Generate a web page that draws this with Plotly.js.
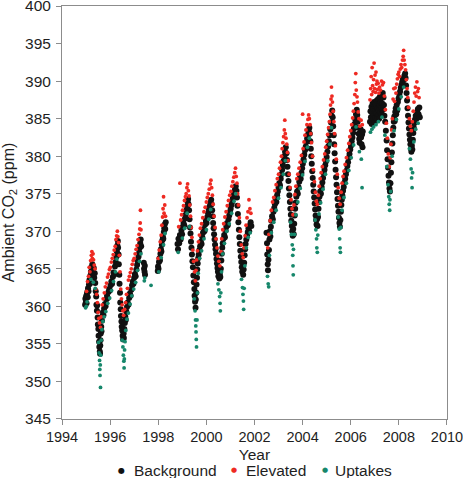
<!DOCTYPE html>
<html>
<head>
<meta charset="utf-8">
<script src="https://cdn.plot.ly/plotly-3.0.1.min.js"></script>
<style>
  html, body { margin: 0; padding: 0; background: #ffffff; }
  #chart { width: 463px; height: 478px; }
</style>
</head>
<body>
<div id="chart"></div>
<script>
// ---- Data: [decimal year, CO2 ppm] ----
const seriesNames = ["Background", "Elevated", "Uptakes"];

const backgroundPoints = [
[1994.96,360.2],[1994.97,361.0],[1994.99,360.5],[1995.00,361.3],[1995.02,360.4],[1995.03,361.6],[1995.05,361.9],[1995.07,361.2],[1995.08,362.4],[1995.10,362.0],
[1995.12,362.9],[1995.14,363.5],[1995.16,363.0],[1995.18,364.1],[1995.20,364.6],[1995.22,365.2],[1995.24,364.7],[1995.26,365.6],[1995.28,365.0],[1995.30,364.3],
[1995.32,365.1],[1995.34,363.8],[1995.36,364.4],[1995.38,363.1],[1995.40,362.0],[1995.42,361.3],[1995.43,360.2],[1995.45,359.4],[1995.46,360.1],[1995.48,358.5],
[1995.49,357.6],[1995.51,357.0],[1995.52,356.1],[1995.54,355.3],[1995.55,354.6],[1995.57,354.0],[1995.58,353.7],[1995.59,354.8],[1995.60,355.5],[1995.61,356.4],
[1995.63,357.3],[1995.64,356.7],[1995.66,358.1],[1995.68,358.7],[1995.70,359.2],[1995.72,358.8],[1995.75,359.7],[1995.78,360.3],[1995.81,360.0],[1995.84,360.9],
[1995.87,361.4],[1995.90,361.1],[1995.93,361.9],[1995.96,362.3],[1995.99,362.1],[1996.02,362.8],[1996.05,363.3],[1996.08,363.0],[1996.11,363.9],[1996.14,364.5],
[1996.17,364.2],[1996.20,365.3],[1996.23,365.9],[1996.26,366.6],[1996.28,367.3],[1996.30,368.1],[1996.32,368.7],[1996.33,367.8],[1996.35,366.9],[1996.36,365.6],
[1996.38,364.2],[1996.39,363.0],[1996.41,361.8],[1996.42,360.5],[1996.44,359.6],[1996.45,358.7],[1996.47,358.0],[1996.48,357.3],[1996.50,356.8],[1996.52,356.1],
[1996.54,355.6],[1996.56,356.4],[1996.57,355.8],[1996.59,357.0],[1996.61,357.8],[1996.63,358.6],[1996.65,358.2],[1996.67,359.3],[1996.70,359.9],[1996.73,360.5],
[1996.76,360.2],[1996.79,361.1],[1996.82,361.7],[1996.85,361.4],[1996.88,362.2],[1996.91,362.8],[1996.94,363.3],[1996.97,363.0],[1997.00,363.8],[1997.03,364.3],
[1997.06,364.0],[1997.09,364.9],[1997.12,365.5],[1997.15,366.0],[1997.18,366.6],[1997.21,367.2],[1997.23,367.8],[1997.25,368.4],[1997.27,368.9],[1997.29,368.0],
[1997.40,365.8],[1997.41,365.0],[1997.43,364.6],[1997.44,365.4],[1997.45,364.2],
[1997.98,364.7],[1997.99,365.3],[1998.01,365.0],[1998.03,365.9],[1998.05,366.4],[1998.07,366.1],[1998.09,367.0],[1998.11,367.6],[1998.13,367.3],[1998.15,368.2],
[1998.17,368.8],[1998.19,369.3],[1998.21,369.0],[1998.23,369.9],[1998.25,370.4],[1998.27,370.9],[1998.29,370.3],[1998.31,371.2],
[1998.80,368.3],[1998.82,367.6],[1998.84,369.0],[1998.87,368.4],[1998.90,369.5],[1998.93,368.9],[1998.96,370.1],[1998.99,369.6],[1999.02,370.6],[1999.05,371.1],
[1999.08,370.8],[1999.11,371.7],[1999.14,372.2],[1999.17,372.8],[1999.20,373.3],[1999.22,373.9],[1999.24,374.3],[1999.26,373.6],[1999.28,372.8],[1999.30,371.6],
[1999.32,370.5],[1999.34,369.7],[1999.36,368.6],[1999.38,367.8],[1999.40,366.9],[1999.42,366.0],[1999.44,365.2],[1999.46,364.1],[1999.48,363.2],[1999.50,362.3],
[1999.51,361.4],[1999.53,360.6],[1999.55,359.8],[1999.56,360.9],[1999.58,361.8],[1999.59,362.9],[1999.61,363.8],[1999.62,364.9],[1999.64,365.7],[1999.66,366.4],
[1999.68,366.9],[1999.71,367.5],[1999.74,368.0],[1999.77,368.6],[1999.80,368.3],[1999.83,369.2],[1999.86,369.8],[1999.89,370.3],[1999.92,370.0],[1999.95,370.9],
[1999.98,371.4],[2000.01,371.1],[2000.04,371.9],[2000.07,372.4],[2000.10,372.9],[2000.13,373.3],[2000.16,373.8],[2000.20,374.2],[2000.22,373.6],[2000.24,372.8],
[2000.26,372.0],[2000.28,371.1],[2000.30,370.4],[2000.32,369.6],[2000.34,368.9],[2000.36,368.2],[2000.38,367.6],[2000.40,367.0],[2000.42,366.3],[2000.44,365.7],
[2000.46,365.1],[2000.48,364.6],[2000.50,364.0],[2000.52,364.7],[2000.54,363.7],[2000.56,364.3],[2000.58,363.9],[2000.60,365.0],[2000.62,366.1],[2000.64,367.0],
[2000.66,367.8],[2000.68,368.4],[2000.71,369.0],[2000.74,369.5],[2000.77,369.2],[2000.80,370.1],[2000.83,370.6],[2000.86,371.1],[2000.89,370.8],[2000.92,371.6],
[2000.95,372.1],[2000.98,372.6],[2001.01,373.0],[2001.04,373.5],[2001.07,373.9],[2001.10,374.4],[2001.13,374.8],[2001.16,375.2],[2001.19,375.6],[2001.22,376.0],
[2001.25,375.4],[2001.27,374.5],[2001.29,373.4],[2001.31,372.3],[2001.33,371.2],[2001.35,370.2],[2001.37,369.2],[2001.39,368.3],[2001.41,367.4],[2001.43,366.6],
[2001.45,365.9],[2001.47,365.2],[2001.49,364.6],[2001.51,365.3],[2001.53,364.2],[2001.55,364.9],[2001.57,365.8],[2001.59,366.8],[2001.61,367.6],[2001.63,368.3],
[2001.66,368.9],[2001.69,369.4],[2001.72,369.9],[2001.75,370.4],[2001.78,370.0],[2001.81,370.8],[2001.84,371.2],[2001.87,370.7],
[2002.50,369.8],[2002.52,368.4],[2002.53,366.9],[2002.55,365.6],[2002.56,364.8],[2002.58,366.2],[2002.60,367.5],[2002.62,368.9],[2002.64,370.0],[2002.66,369.3],
[2002.68,370.6],[2002.70,371.4],[2002.73,372.0],[2002.76,371.6],[2002.79,372.6],[2002.82,373.1],[2002.85,373.6],[2002.88,374.2],[2002.91,373.9],[2002.94,374.8],
[2002.97,375.3],[2003.00,375.8],[2003.03,376.4],[2003.06,376.1],[2003.09,377.0],[2003.12,377.6],[2003.15,378.2],[2003.18,378.8],[2003.21,379.4],[2003.24,380.0],
[2003.27,380.6],[2003.30,381.2],[2003.33,380.4],[2003.35,379.5],[2003.37,378.6],[2003.39,377.6],[2003.41,376.7],[2003.43,375.7],[2003.45,374.8],[2003.47,373.9],
[2003.49,373.0],[2003.51,372.2],[2003.53,371.4],[2003.55,370.7],[2003.57,370.0],[2003.59,369.4],[2003.61,370.3],[2003.63,369.6],[2003.65,371.0],[2003.67,372.1],
[2003.69,373.0],[2003.71,373.8],[2003.74,374.6],[2003.77,375.3],[2003.80,375.0],[2003.83,375.9],[2003.86,376.6],[2003.89,377.2],[2003.92,377.0],[2003.95,377.8],
[2003.98,378.4],[2004.01,379.0],[2004.04,379.6],[2004.07,380.2],[2004.10,380.8],[2004.13,381.3],[2004.16,381.9],[2004.19,382.4],[2004.22,382.9],[2004.25,383.4],
[2004.28,383.8],[2004.30,383.0],[2004.32,382.0],[2004.34,381.0],[2004.36,380.0],[2004.38,379.0],[2004.40,378.0],[2004.42,377.1],[2004.44,376.2],[2004.46,375.3],
[2004.48,374.5],[2004.50,373.7],[2004.52,372.9],[2004.54,372.1],[2004.56,371.5],[2004.58,370.9],[2004.60,371.6],[2004.62,370.7],[2004.64,371.9],[2004.66,373.0],
[2004.68,373.9],[2004.70,374.6],[2004.73,375.3],[2004.76,375.0],[2004.79,375.9],[2004.82,376.5],[2004.85,377.1],[2004.88,377.7],[2004.91,378.2],[2004.94,378.8],
[2004.97,379.3],[2005.00,379.9],[2005.03,380.6],[2005.06,381.3],[2005.09,382.0],[2005.12,382.8],[2005.15,383.6],[2005.18,384.5],[2005.21,385.4],[2005.23,386.1],
[2005.25,385.2],[2005.27,384.0],[2005.29,382.8],[2005.31,381.6],[2005.33,380.4],[2005.35,379.3],[2005.37,378.2],[2005.39,377.2],[2005.41,376.2],[2005.43,375.2],
[2005.45,374.3],[2005.47,373.4],[2005.49,372.6],[2005.51,371.8],[2005.53,371.1],[2005.55,370.6],[2005.57,371.5],[2005.59,372.6],[2005.61,373.5],[2005.63,374.2],
[2005.65,374.8],[2005.68,375.4],[2005.71,375.9],[2005.74,376.5],[2005.77,377.0],[2005.80,377.6],[2005.83,378.1],[2005.86,378.7],[2005.89,379.2],[2005.92,379.8],
[2005.95,380.3],[2005.98,380.9],[2006.01,381.4],[2006.04,382.0],[2006.07,382.5],[2006.10,383.1],[2006.13,383.7],[2006.16,384.3],[2006.19,384.9],[2006.22,385.6],
[2006.25,386.2],[2006.27,385.5],[2006.29,384.6],[2006.31,383.8],[2006.33,383.0],[2006.35,382.3],[2006.37,381.8],[2006.39,382.6],[2006.41,383.6],[2006.43,382.5],
[2006.45,381.6],[2006.47,382.9],[2006.49,381.2],[2006.50,383.3],
[2006.80,384.6],[2006.82,386.0],[2006.84,385.2],[2006.86,386.6],[2006.87,384.3],[2006.89,385.8],[2006.91,387.0],[2006.92,384.9],[2006.94,386.3],[2006.96,385.5],
[2006.97,387.2],[2006.99,384.5],[2007.01,386.0],[2007.03,385.2],[2007.04,386.9],[2007.06,385.7],[2007.08,387.4],[2007.09,384.8],[2007.11,386.4],[2007.13,385.5],
[2007.14,387.6],[2007.16,386.1],[2007.18,385.0],[2007.19,386.9],[2007.21,387.9],[2007.23,385.8],[2007.24,387.2],[2007.26,386.4],[2007.28,388.2],[2007.29,385.6],
[2007.31,387.0],[2007.33,388.4],[2007.34,386.2],[2007.36,387.8],[2007.38,386.8],[2007.40,385.4],[2007.43,384.6],[2007.46,383.4],[2007.49,382.1],[2007.51,380.8],
[2007.53,379.6],[2007.55,378.5],[2007.57,377.4],[2007.59,376.5],[2007.61,375.7],[2007.63,375.3],[2007.65,376.4],[2007.67,377.8],[2007.69,379.2],[2007.71,380.5],
[2007.73,381.7],[2007.75,382.8],[2007.77,383.8],[2007.79,384.6],[2007.81,385.3],[2007.83,384.7],[2007.85,385.9],[2007.87,386.4],[2007.89,385.6],[2007.91,386.8],
[2007.93,386.1],[2007.96,387.2],[2007.99,387.7],[2008.02,388.2],[2008.05,388.6],[2008.08,389.1],[2008.11,389.5],[2008.14,389.9],[2008.17,390.3],[2008.20,390.1],
[2008.23,390.7],[2008.26,391.0],[2008.28,390.4],[2008.30,389.4],[2008.32,388.4],[2008.34,387.4],[2008.36,386.4],[2008.38,385.4],[2008.40,384.5],[2008.42,383.7],
[2008.44,382.9],[2008.46,382.2],[2008.48,381.6],[2008.50,381.0],[2008.52,380.6],[2008.54,381.4],[2008.56,380.9],[2008.58,382.2],[2008.60,383.1],[2008.62,383.8],
[2008.64,384.4],[2008.67,384.9],[2008.70,385.4],[2008.73,385.0],[2008.76,385.9],[2008.79,386.3],[2008.82,385.6],[2008.85,386.5],[2008.87,385.2]
];

const elevatedPoints = [
[1995.02,362.0],[1995.06,363.3],[1995.10,364.0],[1995.13,365.2],[1995.16,364.6],[1995.19,366.1],[1995.22,366.8],[1995.24,367.3],[1995.26,366.4],[1995.29,367.0],
[1995.31,366.2],[1995.34,365.5],[1995.37,365.0],[1995.41,362.3],[1995.44,361.6],[1995.47,360.5],[1995.50,359.2],[1995.53,358.4],[1995.56,357.8],[1995.60,357.2],
[1995.63,358.6],[1995.67,360.2],[1995.71,361.0],[1995.76,361.8],[1995.80,362.6],[1995.85,363.1],[1995.89,363.9],[1995.93,364.3],[1995.97,364.9],[1996.01,365.2],
[1996.05,365.9],[1996.09,366.4],[1996.13,366.9],[1996.17,367.5],[1996.21,368.0],[1996.24,368.9],[1996.27,369.4],[1996.30,370.0],[1996.32,369.3],[1996.35,368.5],
[1996.38,366.8],[1996.41,364.6],[1996.44,362.3],[1996.47,361.0],[1996.50,360.2],[1996.53,359.4],[1996.56,358.8],[1996.60,359.6],[1996.64,360.5],[1996.68,361.6],
[1996.72,362.4],[1996.76,363.5],[1996.80,364.0],[1996.84,364.5],[1996.88,365.0],[1996.92,365.6],[1996.96,366.1],[1997.00,366.4],[1997.04,367.0],[1997.08,367.6],
[1997.12,368.1],[1997.16,368.9],[1997.20,369.6],[1997.23,370.3],[1997.25,371.1],[1997.26,372.8],[1997.28,370.2],
[1998.00,366.4],[1998.04,367.5],[1998.08,368.6],[1998.12,369.5],[1998.15,370.8],[1998.18,371.9],[1998.20,373.0],[1998.22,374.6],[1998.24,372.4],[1998.27,373.5],[1998.30,372.0],
[1998.85,370.6],[1998.90,376.4],[1998.93,371.5],[1998.97,372.2],[1999.01,372.8],[1999.05,373.4],[1999.09,374.1],[1999.13,374.6],[1999.16,375.0],[1999.19,375.8],
[1999.22,376.3],[1999.25,375.4],[1999.28,374.7],[1999.31,373.5],[1999.34,372.0],[1999.37,370.5],[1999.40,369.2],[1999.44,367.5],[1999.47,366.0],[1999.51,364.6],
[1999.54,363.4],[1999.57,364.8],[1999.60,366.2],[1999.63,367.4],[1999.67,368.6],[1999.71,369.5],[1999.75,370.4],[1999.80,371.0],[1999.85,371.8],[1999.90,372.6],
[1999.95,373.2],[2000.00,373.9],[2000.04,374.5],[2000.08,375.0],[2000.12,375.6],[2000.16,376.3],[2000.19,376.8],[2000.22,375.8],[2000.25,374.8],[2000.28,373.6],
[2000.32,372.0],[2000.36,370.5],[2000.40,369.0],[2000.44,367.8],[2000.48,366.7],[2000.52,366.0],[2000.56,365.4],[2000.60,367.3],[2000.64,369.0],[2000.68,370.2],
[2000.72,371.0],[2000.77,371.9],[2000.82,372.6],[2000.87,373.4],[2000.92,374.1],[2000.97,374.8],[2001.02,375.3],[2001.06,376.0],[2001.10,376.6],[2001.14,377.2],
[2001.18,377.8],[2001.21,378.4],[2001.24,377.3],[2001.27,376.4],[2001.30,375.0],[2001.33,373.5],[2001.37,371.8],[2001.41,370.0],[2001.45,368.2],[2001.49,367.0],
[2001.53,366.5],[2001.57,367.8],[2001.61,369.4],[2001.65,370.8],[2001.69,371.8],[2001.73,372.6],[2001.77,374.2],[2001.81,373.0],[2001.85,372.4],
[2002.55,367.8],[2002.60,369.6],[2002.65,371.4],[2002.70,372.8],[2002.75,373.9],[2002.80,374.5],[2002.85,375.4],[2002.90,376.2],[2002.95,377.0],[2003.00,377.6],
[2003.04,378.4],[2003.08,379.2],[2003.12,380.0],[2003.15,381.0],[2003.18,381.8],[2003.21,382.6],[2003.24,383.5],[2003.26,384.8],[2003.28,383.0],[2003.31,382.4],
[2003.34,381.6],[2003.37,380.5],[2003.40,379.4],[2003.44,377.6],[2003.48,375.8],[2003.52,374.2],[2003.56,373.0],[2003.60,372.2],[2003.64,373.5],[2003.68,374.9],
[2003.72,376.0],[2003.76,377.0],[2003.80,377.6],[2003.85,378.4],[2003.90,379.2],[2003.95,380.1],[2004.00,385.6],[2004.02,381.0],[2004.06,381.9],[2004.10,382.8],
[2004.14,383.5],[2004.18,384.2],[2004.22,384.9],[2004.25,385.5],[2004.28,385.0],[2004.31,384.2],[2004.34,383.0],[2004.37,381.8],[2004.41,380.0],[2004.45,378.2],
[2004.49,376.6],[2004.53,375.2],[2004.57,374.0],[2004.61,373.6],[2004.65,374.8],[2004.69,376.0],[2004.73,377.0],[2004.77,377.8],[2004.82,378.6],[2004.87,379.5],
[2004.92,380.3],[2004.96,381.2],[2005.00,382.0],[2005.04,382.9],[2005.08,383.8],[2005.11,384.6],[2005.14,385.6],[2005.16,386.8],[2005.18,387.6],[2005.20,389.2],
[2005.22,388.0],[2005.24,387.2],[2005.27,386.0],[2005.30,384.6],[2005.33,383.0],[2005.36,381.4],[2005.40,379.6],[2005.44,377.6],[2005.48,375.8],[2005.52,374.4],
[2005.56,373.6],[2005.60,375.2],[2005.64,376.4],[2005.68,377.3],[2005.72,378.0],[2005.77,378.9],[2005.82,379.8],[2005.87,380.8],[2005.92,381.7],[2005.96,382.6],
[2006.00,383.4],[2006.04,384.2],[2006.08,385.1],[2006.11,386.0],[2006.14,387.0],[2006.17,388.2],[2006.19,389.8],[2006.21,391.0],[2006.23,388.8],[2006.26,387.9],
[2006.28,387.2],[2006.31,385.9],[2006.34,385.0],[2006.38,384.0],[2006.43,384.8],[2006.48,384.2],
[2006.80,387.5],[2006.83,389.0],[2006.85,390.6],[2006.87,388.2],[2006.89,391.8],[2006.91,389.4],[2006.93,388.6],[2006.95,390.2],[2006.97,392.4],[2006.99,389.0],
[2007.01,390.8],[2007.03,388.5],[2007.05,391.2],[2007.07,389.6],[2007.09,390.0],[2007.11,388.9],[2007.14,389.7],[2007.17,388.4],[2007.20,389.2],[2007.24,388.8],
[2007.28,390.0],[2007.32,389.5],[2007.36,389.8],[2007.40,388.0],[2007.44,386.2],[2007.48,384.4],[2007.52,382.4],[2007.56,380.3],[2007.60,378.6],[2007.64,379.8],
[2007.67,381.6],[2007.70,383.5],[2007.73,385.0],[2007.76,387.6],[2007.79,389.0],[2007.82,387.3],[2007.85,389.1],[2007.88,388.4],[2007.91,389.6],[2007.94,390.3],
[2007.97,390.9],[2008.00,391.2],[2008.03,390.6],[2008.06,391.6],[2008.09,392.2],[2008.12,391.8],[2008.15,392.8],[2008.18,393.3],[2008.20,394.1],[2008.22,392.8],
[2008.25,392.2],[2008.28,391.5],[2008.31,390.2],[2008.34,389.0],[2008.37,387.8],[2008.40,386.5],[2008.44,385.0],[2008.48,384.0],[2008.52,383.4],[2008.56,384.6],
[2008.60,386.0],[2008.63,387.2],[2008.66,388.4],[2008.69,389.2],[2008.72,388.0],[2008.75,389.9],[2008.78,388.6],[2008.81,389.0],[2008.84,387.8]
];

const uptakePoints = [
[1994.98,359.8],[1995.01,360.0],[1995.04,360.6],[1995.20,363.6],[1995.30,363.2],[1995.38,362.4],
[1995.52,355.2],[1995.54,353.8],[1995.56,352.8],[1995.57,351.6],[1995.58,350.8],[1995.59,352.2],[1995.60,349.2],[1995.61,353.5],[1995.63,355.5],[1995.66,356.9],
[1995.70,358.0],[1995.75,358.6],[1995.82,359.3],[1995.90,360.4],[1995.98,361.1],[1996.06,362.1],[1996.14,363.3],[1996.22,364.6],[1996.28,366.3],
[1996.50,355.5],[1996.53,354.6],[1996.55,353.5],[1996.57,352.7],[1996.58,351.8],[1996.59,353.0],[1996.60,354.2],[1996.62,355.3],[1996.65,356.8],[1996.70,358.3],
[1996.76,359.1],[1996.83,360.3],[1996.90,361.4],[1996.98,362.3],[1997.06,363.2],[1997.14,364.8],[1997.22,366.0],[1997.28,367.0],[1997.42,363.4],[1997.44,363.8],[1997.70,362.8],
[1998.02,364.6],[1998.12,366.5],[1998.22,368.2],[1998.28,369.7],
[1998.83,367.2],[1999.00,369.1],[1999.10,370.4],[1999.20,372.4],[1999.30,370.6],
[1999.50,361.0],[1999.53,359.4],[1999.55,358.2],[1999.56,357.4],[1999.57,356.6],[1999.58,355.6],[1999.59,354.6],[1999.61,358.2],[1999.63,361.8],[1999.66,364.4],
[1999.72,366.4],[1999.80,367.4],[1999.90,369.0],[2000.00,370.2],[2000.10,371.6],[2000.18,372.9],
[2000.48,363.0],[2000.52,362.2],[2000.55,361.3],[2000.57,360.4],[2000.58,359.4],[2000.60,361.8],[2000.63,364.6],[2000.68,367.0],[2000.75,368.4],[2000.85,370.0],
[2000.95,371.0],[2001.05,372.4],[2001.15,374.0],[2001.22,375.0],
[2001.46,363.6],[2001.50,362.5],[2001.52,361.6],[2001.54,360.7],[2001.55,359.6],[2001.57,362.4],[2001.60,365.4],[2001.66,367.8],[2001.74,369.2],[2001.82,369.8],
[2002.54,364.0],[2002.57,363.0],[2002.59,362.6],[2002.62,366.8],[2002.70,369.8],[2002.80,371.2],[2002.90,372.8],[2003.00,374.4],[2003.10,375.8],[2003.20,377.6],[2003.28,379.4],
[2003.50,371.2],[2003.54,369.6],[2003.57,368.2],[2003.59,366.8],[2003.60,365.4],[2003.61,364.2],[2003.62,367.6],[2003.66,369.6],[2003.72,372.2],[2003.80,373.9],
[2003.90,375.7],[2004.00,377.5],[2004.10,379.3],[2004.20,381.2],[2004.28,382.4],
[2004.52,371.5],[2004.55,370.2],[2004.58,369.0],[2004.59,367.8],[2004.61,367.2],[2004.63,369.5],[2004.68,372.3],[2004.75,373.8],[2004.85,375.6],[2004.95,377.6],
[2005.05,379.4],[2005.13,381.6],[2005.20,383.8],
[2005.48,371.9],[2005.52,370.3],[2005.54,369.0],[2005.56,367.8],[2005.57,367.2],[2005.59,370.5],[2005.64,372.8],[2005.72,374.5],[2005.82,376.4],[2005.92,378.1],
[2006.02,379.8],[2006.12,381.5],[2006.22,383.9],[2006.36,380.6],[2006.44,379.6],[2006.47,375.8],
[2006.82,383.2],[2006.88,383.6],[2006.95,383.9],[2007.05,384.2],[2007.15,384.6],[2007.30,385.2],[2007.42,382.8],[2007.50,378.6],[2007.55,376.2],[2007.58,374.6],
[2007.60,373.6],[2007.62,372.8],[2007.63,374.2],[2007.66,375.3],[2007.72,380.0],[2007.80,383.4],[2007.90,384.9],[2008.00,386.3],[2008.10,387.9],[2008.20,389.2],
[2008.44,381.0],[2008.48,379.6],[2008.51,378.3],[2008.53,377.1],[2008.55,375.8],[2008.57,377.8],[2008.62,381.9],[2008.70,383.6],[2008.80,384.4]
];

const xTickValues = [1994, 1996, 1998, 2000, 2002, 2004, 2006, 2008, 2010];
const yTickValues = [345, 350, 355, 360, 365, 370, 375, 380, 385, 390, 395, 400];

// ---- Styles ----
const FONT = '"Liberation Sans", Arial, Helvetica, sans-serif';
const TEXT = '#1e1e1e';
const seriesStyle = [
  { color: '#111111', size: 6 },
  { color: '#ee2a22', size: 3.8 },
  { color: '#16876b', size: 3.8 }
];
const pointSets = [backgroundPoints, elevatedPoints, uptakePoints];

const traces = pointSets.map((pts, i) => ({
  type: 'scatter',
  mode: 'markers',
  name: seriesNames[i],
  x: pts.map(p => p[0]),
  y: pts.map(p => p[1]),
  marker: { color: seriesStyle[i].color, size: seriesStyle[i].size, line: { width: 0 } },
  hoverinfo: 'x+y+name'
}));

const axisCommon = {
  showgrid: false,
  zeroline: false,
  showline: true,
  linecolor: '#8c8c8c',
  linewidth: 1,
  mirror: true,
  ticks: 'outside',
  tickcolor: '#8c8c8c',
  ticklen: 5,
  tickwidth: 1,
  automargin: false,
  ticklabeloverflow: 'allow'
};

// Legend row below the x-axis title (marker glyph + label per series)
const legendMarkerX = [0.1558, 0.4468, 0.6831];
const legendTextX = [0.1818, 0.4727, 0.7039];
const legendY = -0.1235;
const annotations = [];
seriesNames.forEach((name, i) => {
  annotations.push({
    xref: 'paper', yref: 'paper', x: legendMarkerX[i], y: legendY,
    xanchor: 'center', yanchor: 'middle', showarrow: false,
    text: '\u25CF', font: { family: 'DejaVu Sans', size: i === 0 ? 8 : 7, color: seriesStyle[i].color }
  });
  annotations.push({
    xref: 'paper', yref: 'paper', x: legendTextX[i], y: legendY,
    xanchor: 'left', yanchor: 'middle', showarrow: false,
    text: name, font: { family: FONT, size: 15.5, color: TEXT }
  });
});

const layout = {
  width: 463,
  height: 478,
  margin: { l: 62, r: 16, t: 6, b: 59, pad: 0 },
  paper_bgcolor: '#ffffff',
  plot_bgcolor: '#ffffff',
  font: { family: FONT, color: TEXT, size: 15 },
  showlegend: false,
  annotations: annotations,
  xaxis: Object.assign({}, axisCommon, {
    range: [1993.999, 2010.001],
    tickmode: 'array',
    tickvals: xTickValues,
    ticktext: xTickValues.map(String),
    tickfont: { family: FONT, size: 14.5, color: TEXT },
    title: { text: 'Year', font: { family: FONT, size: 15.5, color: TEXT }, standoff: 4 }
  }),
  yaxis: Object.assign({}, axisCommon, {
    range: [344.999, 400.001],
    tickmode: 'array',
    tickvals: yTickValues,
    ticktext: yTickValues.map(String),
    tickfont: { family: FONT, size: 15.5, color: TEXT },
    ticklabelstandoff: 2,
    title: { text: 'Ambient CO<sub>2</sub> (ppm)', font: { family: FONT, size: 16, color: TEXT }, standoff: 6 }
  })
};

Plotly.newPlot('chart', traces, layout, { displayModeBar: false, staticPlot: true });
</script>
</body>
</html>
